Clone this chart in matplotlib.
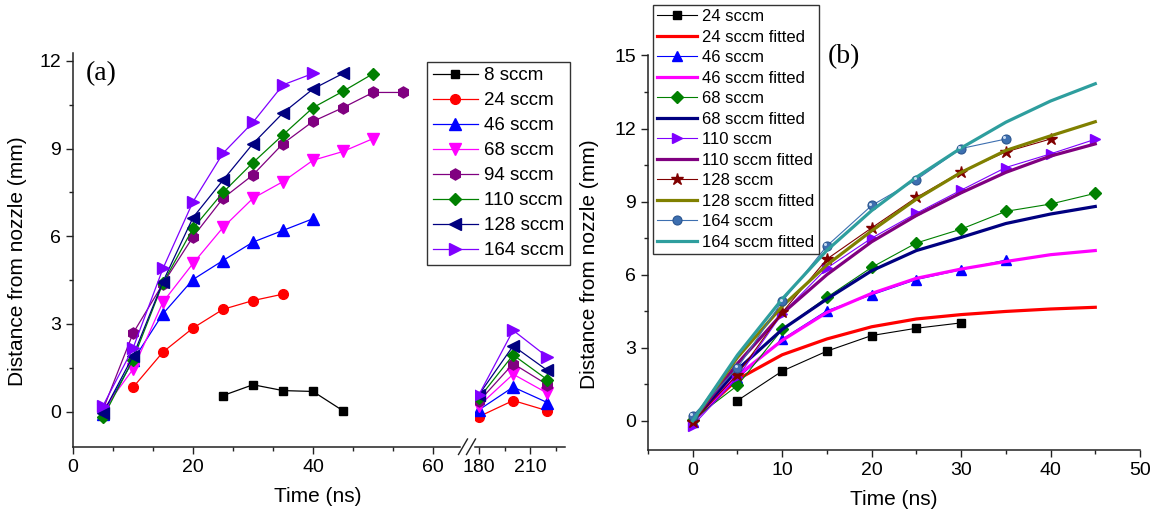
import matplotlib
matplotlib.use("Agg")
import matplotlib.pyplot as plt
from matplotlib.lines import Line2D
from matplotlib.ticker import MultipleLocator, FixedLocator
from matplotlib.transforms import ScaledTranslation
import numpy as np

plt.rcParams['font.family'] = ['Liberation Sans', 'DejaVu Sans']

# ---- measured jet-front positions (time in ns, distance in mm) ----
time_8 = [25, 30, 35, 40, 45]
dist_8 = [0.55, 0.92, 0.72, 0.69, 0.03]

time_24 = [10, 15, 20, 25, 30, 35]
dist_24 = [0.83, 2.04, 2.86, 3.50, 3.80, 4.02]

time_46 = [5, 10, 15, 20, 25, 30, 35, 40]
dist_46 = [-0.07, 1.75, 3.35, 4.52, 5.17, 5.80, 6.20, 6.60]

time_68 = [5, 10, 15, 20, 25, 30, 35, 40, 45, 50]
dist_68 = [0.05, 1.45, 3.75, 5.07, 6.30, 7.30, 7.87, 8.60, 8.90, 9.34]

time_94 = [5, 10, 15, 20, 25, 30, 35, 40, 45, 50, 55]
dist_94 = [0.07, 2.68, 4.38, 5.98, 7.30, 8.10, 9.17, 9.93, 10.40, 10.92, 10.92]

time_110 = [5, 10, 15, 20, 25, 30, 35, 40, 45, 50]
dist_110 = [-0.20, 1.78, 4.40, 6.27, 7.50, 8.52, 9.47, 10.40, 10.96, 11.56]

time_128 = [5, 10, 15, 20, 25, 30, 35, 40, 45]
dist_128 = [-0.05, 1.90, 4.45, 6.64, 7.92, 9.17, 10.22, 11.04, 11.57]

time_164 = [5, 10, 15, 20, 25, 30, 35, 40]
dist_164 = [0.20, 2.17, 4.90, 7.18, 8.84, 9.90, 11.18, 11.57]

# late-time positions (after the axis break)
time_late = [180, 200, 220]
late_24 = [-0.17, 0.38, 0.03]
late_46 = [0.06, 0.84, 0.31]
late_68 = [0.20, 1.28, 0.63]
late_94 = [0.35, 1.64, 0.92]
late_110 = [0.46, 1.94, 1.09]
late_128 = [0.58, 2.25, 1.41]
late_164 = [0.58, 2.78, 1.87]

# panel (b): same data referenced to the first frame (5 ns earlier)
time_shift_b = 5.0

# fitted curves for panel (b)
time_fit = [0, 5, 10, 15, 20, 25, 30, 35, 40, 45]
fit_24 = [0, 1.70, 2.71, 3.36, 3.86, 4.18, 4.36, 4.49, 4.59, 4.66]
fit_46 = [0, 1.85, 3.30, 4.45, 5.23, 5.85, 6.23, 6.54, 6.82, 6.99]
fit_68 = [0, 2.10, 3.75, 5.00, 6.16, 6.99, 7.53, 8.10, 8.49, 8.80]
fit_110 = [0, 2.35, 4.40, 6.00, 7.35, 8.43, 9.36, 10.20, 10.87, 11.37]
fit_128 = [0, 2.60, 4.70, 6.40, 7.80, 9.10, 10.20, 11.10, 11.70, 12.28]
fit_164 = [0, 2.70, 5.00, 7.00, 8.63, 10.00, 11.20, 12.26, 13.13, 13.84]

W, H = 1157, 520
fig = plt.figure(figsize=(W / 100, H / 100), dpi=100)


def px_rect(x0, y0, x1, y1):
    return [x0 / W, 1 - y1 / H, (x1 - x0) / W, (y1 - y0) / H]


ax1 = fig.add_axes(px_rect(73, 53, 460, 446.7))
ax2 = fig.add_axes(px_rect(475, 53, 565, 446.7), sharey=ax1)
axb = fig.add_axes(px_rect(648, 55, 1140, 450))

spine_col = '#222222'
tick_fs = 14
label_fs = 15

for ax in (ax1, ax2, axb):
    for s in ('top', 'right'):
        ax.spines[s].set_visible(False)
    for s in ('left', 'bottom'):
        ax.spines[s].set_linewidth(1.1)
        ax.spines[s].set_color(spine_col)
    ax.tick_params(which='major', direction='out', length=5, width=1.0,
                   colors=spine_col, labelsize=tick_fs, labelcolor='black')
    ax.tick_params(which='minor', direction='out', length=3, width=1.0,
                   colors=spine_col)
ax2.spines['left'].set_visible(False)
ax2.tick_params(axis='y', which='both', left=False, labelleft=False)

series_a = [
    ('8 sccm', time_8, dist_8, None, 'black', 's', 6),
    ('24 sccm', time_24, dist_24, late_24, '#ff0000', 'o', 7),
    ('46 sccm', time_46, dist_46, late_46, '#0000ff', '^', 8),
    ('68 sccm', time_68, dist_68, late_68, '#ff00ff', 'v', 8),
    ('94 sccm', time_94, dist_94, late_94, '#800080', 'h', 8),
    ('110 sccm', time_110, dist_110, late_110, '#008000', 'D', 6),
    ('128 sccm', time_128, dist_128, late_128, '#000080', '<', 8),
    ('164 sccm', time_164, dist_164, late_164, '#8000ff', '>', 8),
]

handles_a = []
for label, t, d, late, col, mk, ms in series_a:
    h, = ax1.plot(t, d, color=col, lw=0.9, marker=mk, ms=ms, mfc=col, mec=col,
                  label=label)
    handles_a.append(h)
    if late is not None:
        ax2.plot(time_late, late, color=col, lw=0.9, marker=mk, ms=ms,
                 mfc=col, mec=col)

ax1.set_xlim(0, 64.5)
ax2.set_xlim(177.7, 230.3)
ax1.set_ylim(-1.2, 12.27)
ax1.xaxis.set_major_locator(FixedLocator([0, 20, 40, 60]))
ax1.xaxis.set_minor_locator(MultipleLocator(20 / 3))
ax2.xaxis.set_major_locator(FixedLocator([180, 210]))
ax2.xaxis.set_minor_locator(FixedLocator([195, 225]))
ax1.yaxis.set_major_locator(MultipleLocator(3))
ax1.yaxis.set_minor_locator(MultipleLocator(1.5))
ax1.set_ylabel('Distance from nozzle (mm)', fontsize=label_fs)
ax1.yaxis.set_label_coords(-0.12, 0.47)

# break marks on the time axis
for x0 in (458.5, 466.5):
    fig.add_artist(Line2D([x0 / W, (x0 + 9) / W], [1 - 454.5 / H, 1 - 439 / H],
                          transform=fig.transFigure, color=spine_col, lw=1.0))

fig.text(318 / W, 1 - 497 / H, 'Time (ns)', ha='center', va='center',
         fontsize=label_fs)
fig.text(86 / W, 1 - 74 / H, '(a)', ha='left', va='center', fontsize=20,
         family='Liberation Serif')

fig.legend(handles=handles_a, loc='upper left',
           bbox_to_anchor=(427 / W, 1 - 61.7 / H), bbox_transform=fig.transFigure,
           fontsize=13.5, frameon=True, fancybox=False, edgecolor='#333333',
           framealpha=1, borderaxespad=0, borderpad=0.3, handlelength=2.4,
           handletextpad=0.35, labelspacing=0.42, numpoints=1)

# ---- panel (b) ----
series_b = [
    ('24 sccm', time_24, dist_24, 'black', 's', 6, dict(), fit_24, '#ff0000'),
    ('46 sccm', time_46, dist_46, '#0000ff', '^', 7, dict(), fit_46, '#ff00ff'),
    ('68 sccm', time_68, dist_68, '#008000', 'D', 6, dict(), fit_68, '#000080'),
    ('110 sccm', time_110, dist_110, '#8000ff', '>', 7, dict(), fit_110, '#800080'),
    ('128 sccm', time_128, dist_128, '#800000', '*', 9, dict(), fit_128, '#808000'),
    ('164 sccm', time_164, dist_164, '#3d6fb0', 'o', 6.5,
     dict(mec='#2a5590', mew=0.8), fit_164, '#2e9e9e'),
]

handles_b = []
for label, t, d, col, mk, ms, extra, fit, fcol in series_b:
    tb = np.asarray(t, dtype=float) - time_shift_b
    kw = dict(mfc=col, mec=col)
    kw.update(extra)
    h, = axb.plot(tb, d, color=col, lw=0.8, marker=mk, ms=ms, label=label, **kw)
    hf, = axb.plot(time_fit, fit, color=fcol, lw=2.3, label=label + ' fitted')
    handles_b += [h, hf]
    if mk == 'o':
        # glossy highlight on the spherical markers
        shift = ScaledTranslation(-1.2 / 72, 1.2 / 72, fig.dpi_scale_trans)
        axb.plot(tb, d, ls='none', marker='o', ms=2.2, mfc='#c9dcf2',
                 mec='none', transform=axb.transData + shift, zorder=h.get_zorder() + 0.1)

axb.set_xlim(-5, 50)
axb.set_ylim(-1.2, 15.02)
axb.xaxis.set_major_locator(MultipleLocator(10))
axb.xaxis.set_minor_locator(MultipleLocator(5))
axb.yaxis.set_major_locator(MultipleLocator(3))
axb.yaxis.set_minor_locator(MultipleLocator(1.5))
axb.set_ylabel('Distance from nozzle (mm)', fontsize=label_fs)
axb.yaxis.set_label_coords(-0.1, 0.47)
axb.set_xlabel('Time (ns)', fontsize=label_fs, labelpad=8)

fig.text(828 / W, 1 - 57 / H, '(b)', ha='left', va='center', fontsize=20,
         family='Liberation Serif')

fig.legend(handles=handles_b, loc='upper left',
           bbox_to_anchor=(653 / W, 1 - 5 / H), bbox_transform=fig.transFigure,
           fontsize=12, frameon=True, fancybox=False, edgecolor='#333333',
           framealpha=1, borderaxespad=0, borderpad=0.25, handlelength=2.4,
           handletextpad=0.3, labelspacing=0.33, numpoints=1)

fig.savefig('out.png', dpi=100)
